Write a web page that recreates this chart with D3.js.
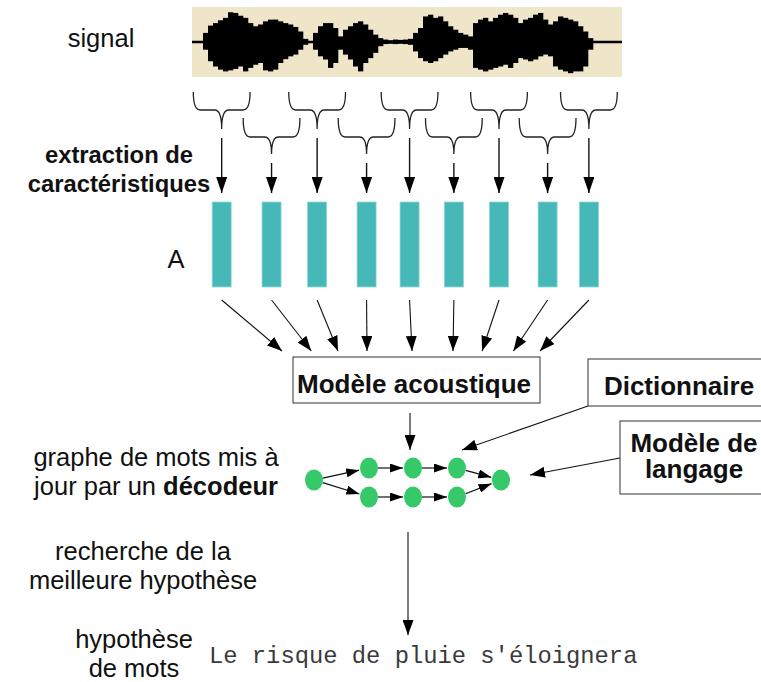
<!DOCTYPE html>
<html>
<head>
<meta charset="utf-8">
<script src="https://cdn.jsdelivr.net/npm/d3@7"></script>
<style>
  html, body { margin: 0; padding: 0; background: #fff; }
  svg { display: block; }
  text { font-family: "Liberation Sans", Arial, Helvetica, sans-serif; fill: #111; }
  .mono { font-family: "Liberation Mono", "Courier New", monospace; fill: #3a3a3a; }
</style>
</head>
<body>
<div id="chart"></div>
<script>
(function(d3) {
    'use strict';

    // ---- data ----
    // waveform envelope, one value per column (fraction of half height)
    var waveUpper = [0.26, 0.47, 0.54, 0.62, 0.69, 0.85, 0.83, 0.75, 0.69, 0.54, 0.45, 0.50, 0.59, 0.64, 0.64, 0.59, 0.54, 0.50, 0.43, 0.30, 0.09,
        0.02,
        0.26, 0.45, 0.54, 0.54, 0.40, 0.16,
        0.35, 0.45, 0.54, 0.59, 0.50, 0.35, 0.21, 0.11,
        0.07, 0.05, 0.07, 0.06, 0.07, 0.09,
        0.26, 0.40, 0.73, 0.78, 0.69, 0.73, 0.59, 0.45, 0.35, 0.26, 0.21, 0.16,
        0.54, 0.64, 0.69, 0.59, 0.69, 0.78, 0.83, 0.78, 0.69, 0.54, 0.64, 0.69, 0.78, 0.83, 0.64, 0.50, 0.59, 0.73, 0.69, 0.64, 0.59, 0.45, 0.30, 0.11];
    var waveLower = [0.22, 0.55, 0.70, 0.79, 0.84, 0.81, 0.77, 0.70, 0.84, 0.74, 0.65, 0.60, 0.81, 0.84, 0.79, 0.60, 0.49, 0.41, 0.36, 0.22, 0.08,
        0.02,
        0.22, 0.41, 0.50, 0.74, 0.60, 0.22,
        0.36, 0.50, 0.70, 0.84, 0.60, 0.46, 0.31, 0.12,
        0.06, 0.05, 0.06, 0.05, 0.06, 0.08,
        0.27, 0.46, 0.55, 0.60, 0.55, 0.46, 0.36, 0.27, 0.22, 0.17, 0.17, 0.22,
        0.74, 0.79, 0.84, 0.79, 0.74, 0.70, 0.65, 0.74, 0.60, 0.46, 0.50, 0.55, 0.50, 0.41, 0.36, 0.41, 0.70, 0.79, 0.84, 0.89, 0.84, 0.84, 0.70, 0.22];

    // analysis frames (time in fraction of the signal) and window half width
    var frameTimes = [0.069, 0.185, 0.291, 0.406, 0.506, 0.609, 0.714, 0.827, 0.923];
    var windowHalf = 0.066;

    // word graph
    var graphNodes = [
        {id: 's', col: 0, row: 0},
        {id: 'a1', col: 1, row: -1}, {id: 'a2', col: 2, row: -1}, {id: 'a3', col: 3, row: -1},
        {id: 'b1', col: 1, row: 1}, {id: 'b2', col: 2, row: 1}, {id: 'b3', col: 3, row: 1},
        {id: 'e', col: 4, row: 0}
    ];
    var graphEdges = [['s', 'a1'], ['s', 'b1'], ['a1', 'a2'], ['a2', 'a3'], ['a3', 'e'],
        ['b1', 'b2'], ['b2', 'b3'], ['b3', 'e']];

    var leftLabels = [
        {lines: [[{t: 'signal'}]], x: 101, y: 47, size: 25.5},
        {lines: [[{t: 'extraction de', b: true}], [{t: 'caractéristiques', b: true}]], x: 119, y: 163, size: 23.8},
        {lines: [[{t: 'A'}]], x: 176, y: 268, size: 25.5},
        {lines: [[{t: 'graphe de mots mis à'}], [{t: 'jour par un '}, {t: 'décodeur', b: true}]], x: 156, y: 466, size: 25.5},
        {lines: [[{t: 'recherche de la'}], [{t: 'meilleure hypothèse'}]], x: 143, y: 560, size: 25.5},
        {lines: [[{t: 'hypothèse'}], [{t: 'de mots'}]], x: 134, y: 648, size: 25.5}
    ];
    var hypothesis = "Le risque de pluie s'éloignera";

    var settings = {
        width: 761,
        height: 682,
        signal: {x0: 192, x1: 622, y0: 7, y1: 77},
        waveCols: {x0: 203, x1: 593},
        bars: {y0: 202, y1: 287, width: 19},
        boxFont: 26
    };

    var svg = d3.select('#chart').append('svg')
        .attr('width', settings.width)
        .attr('height', settings.height);

    svg.append('rect').attr('width', settings.width).attr('height', settings.height).attr('fill', '#fff');

    var defs = svg.append('defs');
    function marker(id, len, wid) {
        defs.append('marker')
            .attr('id', id)
            .attr('markerUnits', 'userSpaceOnUse')
            .attr('markerWidth', len)
            .attr('markerHeight', wid)
            .attr('refX', len)
            .attr('refY', wid / 2)
            .attr('orient', 'auto')
            .append('path')
            .attr('d', 'M0,0L' + len + ',' + (wid / 2) + 'L0,' + wid + 'Z')
            .attr('fill', '#000');
    }
    marker('head', 16, 11);
    marker('headMid', 15, 11);
    marker('headSmall', 13, 9);

    // ---- signal ----
    var xTime = d3.scaleLinear().domain([0, 1]).range([settings.signal.x0, settings.signal.x1]);
    var yWave = d3.scaleLinear().domain([-1, 1]).range([settings.signal.y1, settings.signal.y0]);
    var xCol = d3.scaleLinear().domain([0, waveUpper.length]).range([settings.waveCols.x0, settings.waveCols.x1]);

    svg.append('rect')
        .attr('x', xTime(0)).attr('y', yWave(1))
        .attr('width', xTime(1) - xTime(0)).attr('height', yWave(-1) - yWave(1))
        .attr('fill', '#efe5c9');

    svg.append('line')
        .attr('x1', xTime(0)).attr('x2', xTime(1))
        .attr('y1', yWave(0)).attr('y2', yWave(0))
        .attr('stroke', '#000').attr('stroke-width', 2.5);

    svg.append('g').selectAll('rect')
        .data(waveUpper)
        .enter().append('rect')
        .attr('x', function(d, i) { return xCol(i); })
        .attr('width', function(d, i) { return xCol(i + 1) - xCol(i) + 0.3; })
        .attr('y', function(d) { return yWave(d); })
        .attr('height', function(d, i) { return yWave(-waveLower[i]) - yWave(d); })
        .attr('fill', '#000');

    // ---- braces (analysis windows) ----
    function bracePath(c, w, y0, yh, y1) {
        var r = 7;
        return 'M' + (c - w) + ',' + y0 +
            'Q' + (c - w) + ',' + yh + ' ' + (c - w + r) + ',' + yh +
            'L' + (c - r) + ',' + yh +
            'Q' + c + ',' + yh + ' ' + c + ',' + y1 +
            'Q' + c + ',' + yh + ' ' + (c + r) + ',' + yh +
            'L' + (c + w - r) + ',' + yh +
            'Q' + (c + w) + ',' + yh + ' ' + (c + w) + ',' + y0;
    }
    var rowY = [{y0: 92, yh: 110, y1: 129, a0: 138}, {y0: 118, yh: 137, y1: 154, a0: 163}];

    svg.append('g').selectAll('path')
        .data(frameTimes)
        .enter().append('path')
        .attr('d', function(t, i) {
            var r = rowY[i % 2];
            var c = xTime(t), w = xTime(t + windowHalf) - c;
            return bracePath(c, w, r.y0, r.yh, r.y1);
        })
        .attr('fill', 'none')
        .attr('stroke', '#222')
        .attr('stroke-width', 1.3);

    svg.append('g').selectAll('line')
        .data(frameTimes)
        .enter().append('line')
        .attr('x1', function(t) { return xTime(t); })
        .attr('x2', function(t) { return xTime(t); })
        .attr('y1', function(t, i) { return rowY[i % 2].a0; })
        .attr('y2', 193)
        .attr('stroke', '#111')
        .attr('stroke-width', 1.4)
        .attr('marker-end', 'url(#head)');

    // ---- feature vectors ----
    svg.append('g').selectAll('rect')
        .data(frameTimes)
        .enter().append('rect')
        .attr('x', function(t) { return xTime(t) - settings.bars.width / 2; })
        .attr('y', settings.bars.y0)
        .attr('width', settings.bars.width)
        .attr('height', settings.bars.y1 - settings.bars.y0)
        .attr('fill', '#47b8b8')
        .attr('stroke', '#8fd6d3')
        .attr('stroke-width', 0.8);

    // ---- boxes ----
    var boxes = [
        {lines: ['Modèle acoustique'], x: 293, y: 357, w: 247, h: 46, cx: 414, ty: 393},
        {lines: ['Dictionnaire'], x: 588, y: 359, w: 190, h: 47, cx: 679, ty: 395},
        {lines: ['Modèle de', 'langage'], x: 620, y: 421, w: 160, h: 73, cx: 694, ty: 452}
    ];
    var boxG = svg.append('g').selectAll('g')
        .data(boxes)
        .enter().append('g');
    boxG.append('rect')
        .attr('x', function(d) { return d.x; })
        .attr('y', function(d) { return d.y; })
        .attr('width', function(d) { return d.w; })
        .attr('height', function(d) { return d.h; })
        .attr('fill', '#fff')
        .attr('stroke', '#333')
        .attr('stroke-width', 1);
    boxG.each(function(d) {
        var t = d3.select(this).append('text')
            .attr('text-anchor', 'middle')
            .attr('font-weight', 'bold')
            .attr('font-size', settings.boxFont);
        d.lines.forEach(function(l, i) {
            t.append('tspan')
                .attr('x', d.cx)
                .attr('y', d.ty + i * 26)
                .text(l);
        });
    });

    // frames -> acoustic model (converging arrows)
    var converge = d3.scaleLinear()
        .domain([xTime(frameTimes[0]), xTime(frameTimes[3]), xTime(frameTimes[4]), xTime(frameTimes[5]), xTime(frameTimes[8])])
        .range([282, 367, 412, 453, 540]);
    svg.append('g').selectAll('line')
        .data(frameTimes)
        .enter().append('line')
        .attr('x1', function(t) { return xTime(t); })
        .attr('y1', 300)
        .attr('x2', function(t) { return converge(xTime(t)); })
        .attr('y2', 351)
        .attr('stroke', '#111')
        .attr('stroke-width', 1.1)
        .attr('marker-end', 'url(#headMid)');

    // ---- word graph ----
    var gx = d3.scaleLinear().domain([0, 1, 4]).range([314, 369, 501]);
    var gy = d3.scaleLinear().domain([-1, 0, 1]).range([468, 480, 497]);
    var rx = 9, ry = 10.5;
    var byId = {};
    graphNodes.forEach(function(n) { n.x = gx(n.col); n.y = gy(n.row); byId[n.id] = n; });

    function edgeR(ux, uy) {
        return 1 / Math.sqrt((ux / rx) * (ux / rx) + (uy / ry) * (uy / ry));
    }

    svg.append('g').selectAll('line')
        .data(graphEdges)
        .enter().append('line')
        .each(function(e) {
            var a = byId[e[0]], b = byId[e[1]];
            var dx = b.x - a.x, dy = b.y - a.y, L = Math.sqrt(dx * dx + dy * dy);
            var ux = dx / L, uy = dy / L, r = edgeR(ux, uy);
            d3.select(this)
                .attr('x1', a.x + ux * r).attr('y1', a.y + uy * r)
                .attr('x2', b.x - ux * (r + 1)).attr('y2', b.y - uy * (r + 1));
        })
        .attr('stroke', '#111')
        .attr('stroke-width', 1.2)
        .attr('marker-end', 'url(#headSmall)');

    svg.append('g').selectAll('ellipse')
        .data(graphNodes)
        .enter().append('ellipse')
        .attr('cx', function(d) { return d.x; })
        .attr('cy', function(d) { return d.y; })
        .attr('rx', rx)
        .attr('ry', ry)
        .attr('fill', '#36c96a');

    // arrows into graph and to the hypothesis
    var inputs = [
        {x1: 410, y1: 413, x2: 410, y2: 450},
        {x1: 588, y1: 406, x2: 462, y2: 450},
        {x1: 620, y1: 458, x2: 530, y2: 475},
        {x1: 408, y1: 532, x2: 408, y2: 635}
    ];
    svg.append('g').selectAll('line')
        .data(inputs)
        .enter().append('line')
        .attr('x1', function(d) { return d.x1; })
        .attr('y1', function(d) { return d.y1; })
        .attr('x2', function(d) { return d.x2; })
        .attr('y2', function(d) { return d.y2; })
        .attr('stroke', '#111')
        .attr('stroke-width', 1.1)
        .attr('marker-end', 'url(#headMid)');

    // ---- labels ----
    var lab = svg.append('g').selectAll('text')
        .data(leftLabels)
        .enter().append('text')
        .attr('text-anchor', 'middle')
        .attr('font-size', function(d) { return d.size; });
    lab.each(function(d) {
        var t = d3.select(this);
        d.lines.forEach(function(line, i) {
            line.forEach(function(part, j) {
                var ts = t.append('tspan').text(part.t);
                if (j === 0) {
                    ts.attr('x', d.x).attr('y', d.y + i * 29);
                }
                if (part.b) {
                    ts.attr('font-weight', 'bold');
                }
            });
        });
    });

    svg.append('text')
        .attr('class', 'mono')
        .attr('x', 209)
        .attr('y', 663)
        .attr('font-size', 23.8)
        .text(hypothesis);

})(window.d3);
</script>
</body>
</html>
